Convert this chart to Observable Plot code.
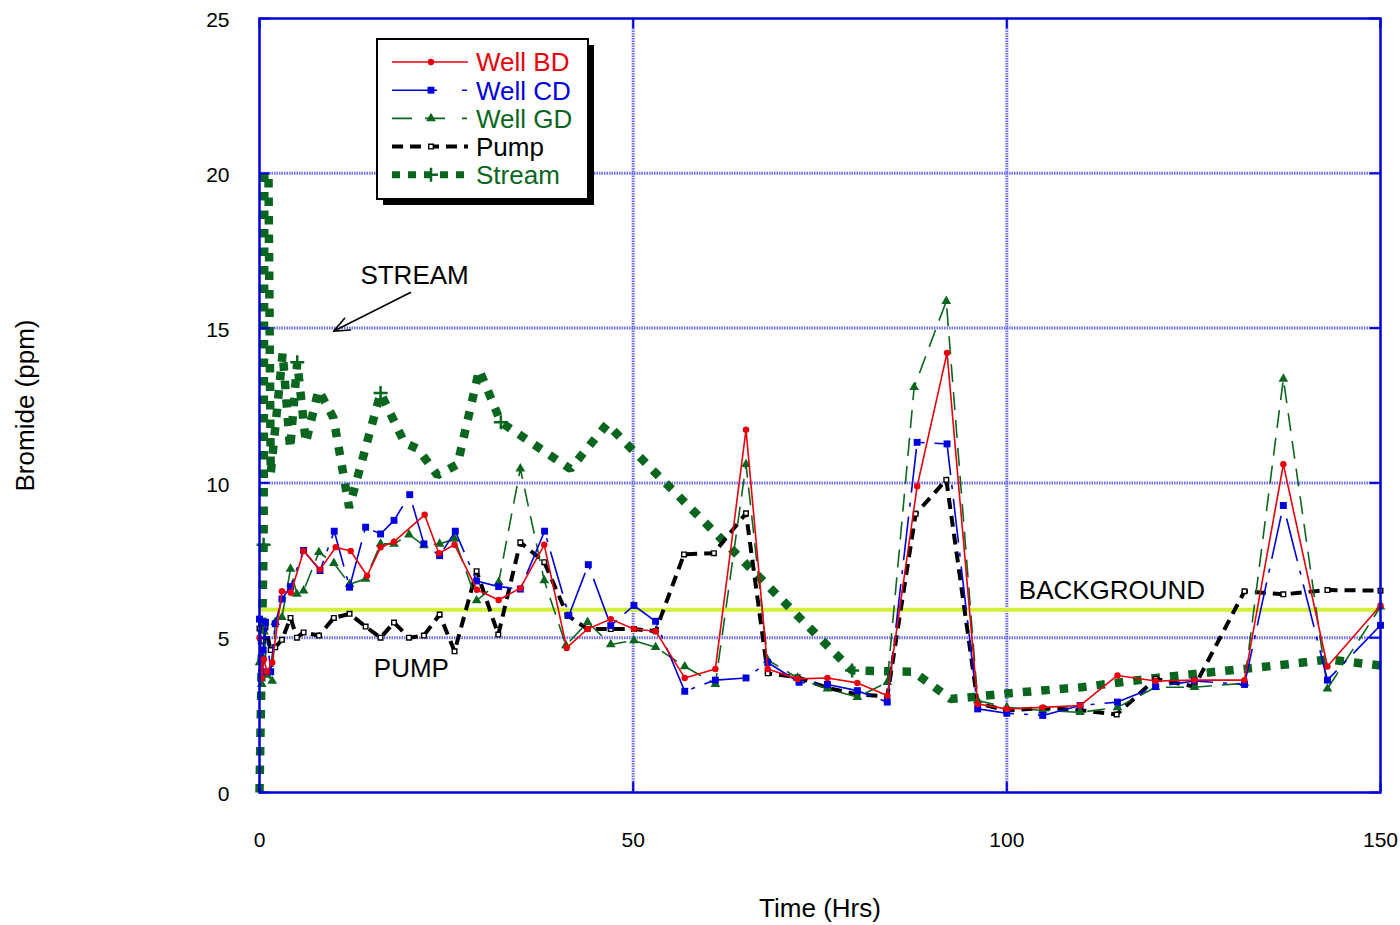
<!DOCTYPE html>
<html><head><meta charset="utf-8">
<script src="https://cdn.jsdelivr.net/npm/d3@7"></script>
<script src="https://cdn.jsdelivr.net/npm/@observablehq/plot@0.6"></script>
<style>body{margin:0;background:#fff;} #chart{width:1400px;height:925px;}</style>
</head><body><div id="chart"></div>
<script>
// ---- data: [time (hrs), bromide (ppm)] ----
const wellBD = [[0,5.0],[0.3,3.7],[0.6,4.3],[1.0,3.9],[1.7,4.2],[3.0,6.5],[4.2,6.45],[5.9,7.8],[8.1,7.2],[10.2,7.92],[12.2,7.8],[14.4,7.0],[16.2,7.92],[18.0,8.1],[22.1,8.97],[24.0,7.73],[26.1,8.0],[29.1,6.55],[32.0,6.22],[34.9,6.6],[38.1,8.0],[41.1,4.67],[43.9,5.28],[47.0,5.6],[50.1,5.28],[53.0,5.21],[56.9,3.70],[61.0,3.99],[65.1,11.72],[68.0,3.99],[72.0,3.67],[76.0,3.70],[80.0,3.54],[84.0,3.13],[88.0,9.89],[92.0,14.2],[96.1,2.86],[100,2.70],[104.8,2.75],[109.8,2.81],[114.8,3.78],[119.9,3.6],[125.1,3.63],[131.8,3.63],[137.0,10.6],[142.9,4.07],[150,6.04]];
const wellCD = [[0,5.6],[0.3,3.9],[0.5,4.6],[0.8,5.5],[1.5,3.9],[2.1,5.45],[3.0,6.25],[4.15,6.65],[5.9,7.82],[8.1,7.17],[10.0,8.44],[12.05,6.63],[14.2,8.57],[16.2,8.35],[18.0,8.79],[20.1,9.62],[22.0,8.03],[24.1,7.65],[26.2,8.44],[29.05,6.83],[32.0,6.65],[34.9,6.57],[38.15,8.44],[41.4,5.72],[44.0,7.36],[47.0,5.39],[50.1,6.04],[53.0,5.53],[56.9,3.27],[61.0,3.63],[65.1,3.70],[68.0,4.2],[72.2,3.56],[76.0,3.49],[80.0,3.29],[84.0,2.92],[88.0,11.31],[92.0,11.26],[96.1,2.70],[100,2.56],[104.8,2.49],[109.8,2.81],[114.8,2.92],[119.9,3.42],[125.1,3.6],[131.8,3.49],[137.0,9.27],[142.9,3.63],[150,5.4]];
const wellGD = [[0,4.2],[0.3,3.5],[0.6,5.2],[1.0,3.8],[1.7,3.6],[2.1,5.5],[3.0,5.66],[4.15,7.22],[5.0,6.41],[5.9,6.52],[7.95,7.76],[9.95,7.41],[12.05,6.73],[14.2,6.9],[16.2,8.03],[18.0,8.03],[20.0,8.33],[22.0,7.98],[24.1,8.03],[26.1,8.19],[29.05,6.2],[32.0,6.79],[34.9,10.46],[38.1,6.85],[41.0,4.75],[43.9,5.5],[47.0,4.78],[50.1,4.91],[53.0,4.69],[56.9,4.07],[61.0,3.5],[65.1,10.6],[68.0,4.28],[72.0,3.7],[76.0,3.35],[80.0,3.08],[84.0,3.56],[87.6,13.09],[91.9,15.87],[96.1,2.97],[100,2.75],[104.8,2.65],[109.8,2.59],[114.8,2.75],[119.9,3.4],[125.1,3.4],[131.8,3.53],[137.0,13.36],[142.9,3.35],[150,6.0]];
const pump = [[0,5.3],[0.3,5.07],[0.5,4.9],[0.8,5.34],[1.5,4.6],[2.1,4.69],[3.0,4.93],[4.15,5.64],[5.0,5.0],[5.9,5.17],[7.95,5.07],[9.95,5.64],[12.05,5.77],[14.2,5.36],[16.2,5.0],[18.0,5.49],[20.0,5.0],[22.0,5.07],[24.1,5.75],[26.1,4.56],[29.05,7.15],[31.95,5.1],[34.9,8.08],[38.1,7.44],[41.2,5.72],[43.9,5.28],[47.0,5.28],[50.1,5.28],[53.0,5.21],[56.8,7.69],[60.8,7.73],[65.1,9.02],[68.0,3.85],[72.0,3.72],[76.0,3.38],[80.0,3.17],[84.0,3.1],[87.8,9.0],[91.9,10.1],[96.1,2.88],[100,2.65],[104.8,2.73],[109.8,2.66],[114.7,2.52],[119.9,3.67],[125.1,3.42],[131.8,6.5],[137.0,6.4],[142.9,6.54],[150,6.52]];
const stream = [[0,0],[0.55,8.0],[0.65,20.0],[1.2,20.0],[1.5,10.3],[3.1,14.2],[4.1,11.1],[5.05,13.9],[6.2,11.3],[7.9,13.0],[9.9,12.1],[12.0,9.2],[16.2,12.9],[19.4,11.3],[21.2,11.1],[23.8,10.25],[26.5,10.6],[29.4,13.65],[32.3,11.96],[41.6,10.45],[46.5,11.9],[79.3,3.94],[87.5,3.9],[92.5,3.02],[96,3.1],[100,3.2],[110,3.4],[120,3.7],[130,3.95],[138,4.15],[143,4.3],[150,4.1]];
const streamMarkerTimes = [0.55,5.05,16.2,32.3,79.3];
const backgroundLevel = 5.9;
const xTicks = [0,50,100,150];
const yTicks = [0,5,10,15,20,25];
const gridX = [50,100];
const gridY = [5,10,15,20];
const seriesNames = ["Well BD","Well CD","Well GD","Pump","Stream"];
const labels = [{text:"STREAM",t:13.5,v:16.7},{text:"PUMP",t:15.3,v:4.0},{text:"BACKGROUND",t:101.6,v:6.52}];
const arrowSpec = [{t1:20.2,v1:16.15,t2:9.9,v2:14.9}];

// ---- styles ----
const RED="#e8000c", BLUE="#0000dd", GREEN="#0a661e", BLACK="#000", GRID="#7070ee", FRAME="#0000d8", BG="#d4ee3a";
const FONT="'Liberation Sans', Arial, Helvetica, sans-serif";
const rows = (arr)=>arr.map(([t,v])=>({t,v}));
const plusSym = {draw(ctx,size){const r=Math.sqrt(size/Math.PI);ctx.moveTo(-r,0);ctx.lineTo(r,0);ctx.moveTo(0,-r);ctx.lineTo(0,r);}};
const streamMarks = rows(stream).filter(d=>streamMarkerTimes.includes(d.t));

const cfg = [
  {name:seriesNames[0], data:wellBD, color:RED, width:1.6, dash:null, symbol:"circle", r:3.2, fill:RED, mstroke:"none"},
  {name:seriesNames[1], data:wellCD, color:BLUE, width:1.6, dash:"44,10,4,10", symbol:"square", r:3.9, fill:BLUE, mstroke:"none"},
  {name:seriesNames[2], data:wellGD, color:GREEN, width:1.6, dash:"18,10", symbol:"triangle", r:3.6, fill:GREEN, mstroke:"none"},
  {name:seriesNames[3], data:pump, color:BLACK, width:4, dash:"11,7", symbol:"square", r:2.6, fill:"white", mstroke:BLACK},
  {name:seriesNames[4], data:stream, color:GREEN, width:8.5, dash:"8.5,10", symbol:plusSym, r:7, fill:"none", mstroke:GREEN}
];

const marks = [
  Plot.ruleX(gridX,{stroke:GRID,strokeWidth:3,strokeDasharray:"1.5,1"}),
  Plot.ruleY(gridY,{stroke:GRID,strokeWidth:3,strokeDasharray:"1.5,1"}),
  Plot.ruleY([backgroundLevel],{stroke:BG,strokeWidth:4}),
  Plot.line(rows(stream),{x:"t",y:"v",stroke:GREEN,strokeWidth:8.5,strokeDasharray:"8.5,10",strokeLinecap:"butt",strokeLinejoin:"miter"}),
  Plot.dot(streamMarks,{x:"t",y:"v",symbol:plusSym,r:7,stroke:GREEN,strokeWidth:2.5,fill:"none"}),
];
for (const c of cfg.slice(0,4).reverse()) {
  marks.push(Plot.line(rows(c.data),{x:"t",y:"v",stroke:c.color,strokeWidth:c.width,strokeDasharray:c.dash,strokeLinecap:"butt"}));
  marks.push(Plot.dot(rows(c.data),{x:"t",y:"v",symbol:c.symbol,r:c.r,fill:c.fill,stroke:c.mstroke,strokeWidth:1.4}));
}
marks.push(
  Plot.text(labels,{x:"t",y:"v",text:"text",textAnchor:"start",fontSize:26,fill:"black"}),
  Plot.arrow(arrowSpec,{x1:"t1",y1:"v1",x2:"t2",y2:"v2",stroke:"black",strokeWidth:1.6,headLength:16,headAngle:45}),
  Plot.ruleY(yTicks,{x1:0,x2:1.4,stroke:FRAME,strokeWidth:2}),
  Plot.ruleY(yTicks,{x1:148.6,x2:150,stroke:FRAME,strokeWidth:2}),
  Plot.ruleX(xTicks,{y1:0,y2:0.33,stroke:FRAME,strokeWidth:2}),
  Plot.ruleX(xTicks,{y1:24.67,y2:25,stroke:FRAME,strokeWidth:2}),
  Plot.frame({stroke:FRAME,strokeWidth:2.5}),
  Plot.axisX({ticks:xTicks,tickSize:0,tickPadding:40,fontSize:21,label:null}),
  Plot.axisY({ticks:yTicks,tickSize:0,tickPadding:30,fontSize:21,label:null,dy:2}),
  Plot.text(["Time (Hrs)"],{frameAnchor:"bottom",dy:124,fontSize:26,fill:"black",textAnchor:"middle"}),
  Plot.text(["Bromide (ppm)"],{frameAnchor:"left",dx:-234,rotate:-90,fontSize:26,fill:"black",textAnchor:"middle"})
);

const svgEl = Plot.plot({
  width:1400, height:925,
  marginLeft:259, marginRight:20, marginTop:18, marginBottom:133,
  x:{domain:[0,150],label:null},
  y:{domain:[0,25],label:null},
  style:{fontFamily:FONT,fontSize:"21px",background:"white",color:"black"},
  marks
});
document.getElementById("chart").appendChild(svgEl);

// ---- legend inside the plot area ----
const svg = d3.select(svgEl);
const lg = svg.append("g").attr("font-family",FONT).attr("text-anchor","start");
lg.append("rect").attr("x",383).attr("y",45).attr("width",211).attr("height",160).attr("fill","black");
lg.append("rect").attr("x",377).attr("y",39).attr("width",211).attr("height",160).attr("fill","white").attr("stroke","black").attr("stroke-width",2);
cfg.forEach((c,i)=>{
  const y = 62 + i*28.2;
  lg.append("line").attr("x1",392).attr("x2",468).attr("y1",y).attr("y2",y)
    .attr("stroke",c.color).attr("stroke-width",i===4?7:c.width)
    .attr("stroke-dasharray",c.dash===null?null:(i===4?"8,8":(i===1?"45,25,5,10":(i===2?"20,13,20,17,5,10":c.dash))));
  const sym = typeof c.symbol==="string" ? {circle:d3.symbolCircle,square:d3.symbolSquare,triangle:d3.symbolTriangle}[c.symbol] : c.symbol;
  lg.append("path").attr("transform",`translate(431,${y})`)
    .attr("d",d3.symbol(sym, Math.PI*c.r*c.r)())
    .attr("fill",c.fill).attr("stroke",c.mstroke).attr("stroke-width",i===4?2.5:1.4);
  lg.append("text").attr("x",476).attr("y",y).attr("dy","0.36em").attr("font-size",26)
    .attr("text-anchor","start")
    .attr("fill", i===3?"black":c.color).text(c.name);
});
</script></body></html>
